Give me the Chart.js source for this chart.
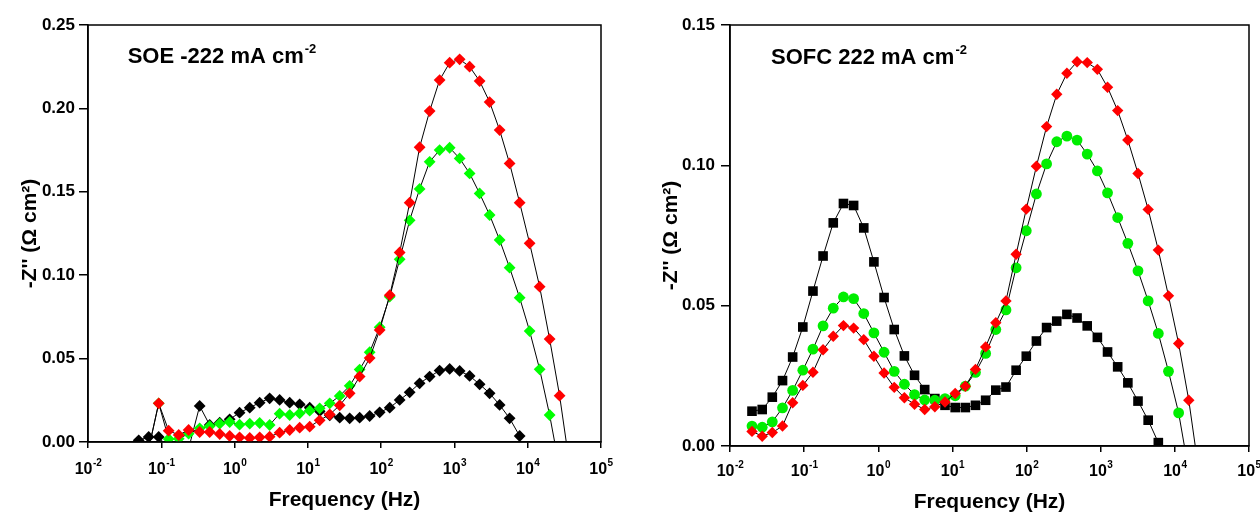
<!DOCTYPE html>
<html>
<head>
<meta charset="utf-8">
<script src="https://cdn.jsdelivr.net/npm/chart.js@4.4.0/dist/chart.umd.min.js"></script>
<style>
  body { margin: 0; background: #fff; }
  .panel { position: absolute; top: 0; width: 630px; height: 513px; }
</style>
</head>
<body>
<div class="panel" style="left:0"><canvas id="soe" width="630" height="513"></canvas></div>
<div class="panel" style="left:630px"><canvas id="sofc" width="630" height="513"></canvas></div>
<script>
const FONT = "'Liberation Sans', Arial, sans-serif";
const decades = [-2, -1, 0, 1, 2, 3, 4, 5];

// SOE -222 mA cm-2 (left panel), frequencies in Hz, -Z'' in ohm cm2
const soeFreq = [0.0492, 0.0673, 0.0922, 0.126, 0.173, 0.236, 0.334, 0.457, 0.627, 0.857,
  1.17, 1.61, 2.20, 3.01, 4.12, 5.65, 7.73, 10.6, 14.5, 19.9,
  27.2, 37.2, 50.9, 69.7, 95.5, 131, 179, 245, 335, 459,
  628, 861, 1178, 1612, 2207, 3021, 4139, 5662, 7762, 10620,
  14550, 19910, 27230, 37330];
const soeBlack = [0.001, 0.003, 0.003, -0.004, -0.004, -0.004, 0.0216, 0.0102, 0.0116, 0.0136,
  0.0176, 0.0206, 0.0236, 0.0262, 0.0252, 0.0236, 0.0226, 0.0206, 0.0185, 0.016,
  0.0146, 0.0142, 0.0146, 0.0156, 0.0178, 0.0206, 0.0252, 0.0298, 0.0352, 0.0392,
  0.0428, 0.0438, 0.0426, 0.0396, 0.0346, 0.0292, 0.0222, 0.0142, 0.0036, null,
  null, null, null, null];
const soeGreen = [null, -0.004, 0.0232, 0.0018, 0.002, 0.005, 0.0082, 0.0095, 0.011, 0.012,
  0.0104, 0.011, 0.0114, 0.0102, 0.017, 0.0162, 0.0172, 0.0188, 0.0202, 0.0232,
  0.0276, 0.0337, 0.0434, 0.0538, 0.0688, 0.0871, 0.1095, 0.1329, 0.1517, 0.168,
  0.175, 0.1764, 0.170, 0.161, 0.149, 0.1361, 0.1211, 0.1045, 0.0865, 0.0665,
  0.0436, 0.0162, -0.016, null];
const soeRed = [null, -0.004, 0.0232, 0.0068, 0.0042, 0.0072, 0.006, 0.006, 0.0048, 0.0036,
  0.0028, 0.0024, 0.0028, 0.0032, 0.0056, 0.0072, 0.0086, 0.0092, 0.013, 0.0165,
  0.022, 0.0292, 0.0392, 0.0503, 0.0671, 0.088, 0.1136, 0.1435, 0.1767, 0.1984,
  0.217, 0.2274, 0.2294, 0.225, 0.2164, 0.2038, 0.187, 0.167, 0.1435, 0.1191,
  0.0931, 0.0617, 0.0278, -0.014];

// SOFC 222 mA cm-2 (right panel)
const sofcFreq = [0.0198, 0.0272, 0.0372, 0.0511, 0.0700, 0.0960, 0.1315, 0.180, 0.247, 0.339,
  0.465, 0.637, 0.873, 1.197, 1.641, 2.249, 3.083, 4.227, 5.794, 7.943,
  10.89, 14.93, 20.46, 28.05, 38.46, 52.72, 72.28, 99.1, 135.8, 186.2,
  255.3, 349.9, 479.7, 657.7, 901.6, 1236, 1694, 2323, 3184, 4365,
  5984, 8204, 11246, 15417, 21135];
const sofcBlack = [0.0124, 0.013, 0.0174, 0.0233, 0.0317, 0.0424, 0.0552, 0.0677, 0.0795, 0.0864,
  0.0857, 0.0777, 0.0656, 0.0529, 0.0415, 0.0321, 0.0252, 0.0201, 0.0169, 0.0145,
  0.0137, 0.0137, 0.0145, 0.0163, 0.0199, 0.021, 0.027, 0.032, 0.0374, 0.0422,
  0.0445, 0.0469, 0.0456, 0.0428, 0.0387, 0.0335, 0.0282, 0.0225, 0.016, 0.0092,
  0.0012, null, null, null, null];
const sofcGreen = [0.0071, 0.0067, 0.0086, 0.0136, 0.0198, 0.027, 0.0345, 0.0428, 0.0491, 0.0531,
  0.0525, 0.0472, 0.0403, 0.0334, 0.0266, 0.022, 0.0183, 0.0164, 0.0163, 0.0169,
  0.0179, 0.0213, 0.0262, 0.033, 0.0415, 0.0485, 0.0635, 0.0767, 0.0898, 0.1005,
  0.1084, 0.1104, 0.109, 0.104, 0.098, 0.0902, 0.0814, 0.0722, 0.0624, 0.0517,
  0.0401, 0.0266, 0.0118, -0.009, null];
const sofcRed = [0.0052, 0.0035, 0.0048, 0.0071, 0.0154, 0.0216, 0.0263, 0.0343, 0.0391, 0.0429,
  0.042, 0.0379, 0.032, 0.026, 0.0209, 0.0172, 0.0149, 0.013, 0.014, 0.0157,
  0.0187, 0.0213, 0.0273, 0.0353, 0.0439, 0.0517, 0.0683, 0.0844, 0.0997, 0.1138,
  0.1253, 0.1328, 0.1369, 0.1366, 0.1342, 0.1278, 0.1195, 0.109, 0.0971, 0.0843,
  0.0698, 0.0535, 0.0365, 0.0163, -0.0093];

function series(freq, vals, color, style, radius) {
  const pts = [];
  vals.forEach((v, i) => { if (v !== null) pts.push({ x: freq[i], y: v }); });
  return {
    data: pts,
    borderColor: '#000',
    borderWidth: 1,
    backgroundColor: color,
    pointBackgroundColor: color,
    pointBorderColor: color,
    pointBorderWidth: 0,
    pointStyle: style,
    pointRadius: radius,
    tension: 0,
    clip: 0
  };
}

// box round the plot, 10^n tick labels and the panel note
const decorPlugin = {
  id: 'decor',
  afterDatasetsDraw(chart) {
    const { ctx, chartArea: a } = chart;
    ctx.save();
    ctx.strokeStyle = '#000';
    ctx.lineWidth = 1.5;
    ctx.strokeRect(a.left, a.top, a.right - a.left, a.bottom - a.top);
    ctx.restore();
  },
  afterDraw(chart, args, opts) {
    const ctx = chart.ctx;
    const xs = chart.scales.x;
    ctx.save();
    ctx.fillStyle = '#000';
    ctx.textBaseline = 'alphabetic';
    ctx.textAlign = 'left';
    decades.forEach(e => {
      const px = xs.getPixelForValue(Math.pow(10, e));
      const exp = String(e);
      ctx.font = 'bold 16px ' + FONT;
      const w1 = ctx.measureText('10').width;
      ctx.font = 'bold 10px ' + FONT;
      const w2 = ctx.measureText(exp).width;
      const x0 = px - (w1 + w2) / 2;
      ctx.font = 'bold 16px ' + FONT;
      ctx.fillText('10', x0, opts.tickY);
      ctx.font = 'bold 10px ' + FONT;
      ctx.fillText(exp, x0 + w1 + 0.5, opts.tickY - 8);
    });
    ctx.font = 'bold 22px ' + FONT;
    ctx.fillText(opts.note, opts.noteX, opts.noteY);
    const wn = ctx.measureText(opts.note).width;
    ctx.font = 'bold 13px ' + FONT;
    ctx.fillText('-2', opts.noteX + wn + 1, opts.noteY - 10);
    ctx.restore();
  }
};

function makeChart(id, cfg) {
  const titleFont = { family: FONT, size: 21, weight: 'bold', lineHeight: 1 };
  return new Chart(document.getElementById(id), {
    type: 'line',
    data: { datasets: cfg.datasets },
    options: {
      responsive: false,
      animation: false,
      devicePixelRatio: 1,
      layout: { padding: { top: 25, right: cfg.padRight, left: 0, bottom: 0 } },
      plugins: { legend: { display: false }, tooltip: { enabled: false }, decor: cfg.decor },
      scales: {
        x: {
          type: 'logarithmic',
          min: 0.01,
          max: 1e5,
          afterBuildTicks: s => { s.ticks = decades.map(e => ({ value: Math.pow(10, e) })); },
          afterFit: s => { s.height = cfg.xHeight; },
          ticks: { display: false },
          grid: { drawOnChartArea: false, tickLength: 6, color: '#000', lineWidth: 1.5 },
          border: { color: '#000', width: 1.5 },
          title: { display: true, text: 'Frequency (Hz)', color: '#000', font: titleFont,
                   padding: { top: 0, bottom: cfg.xTitlePad } }
        },
        y: {
          min: 0,
          max: cfg.yMax,
          afterFit: s => { s.width = cfg.yWidth; },
          ticks: { stepSize: 0.05, callback: v => v.toFixed(2), color: '#000',
                   font: { family: FONT, size: 17, weight: 'bold' }, padding: cfg.yTickPad },
          grid: { drawOnChartArea: false, tickLength: 9, color: '#000', lineWidth: 1.5 },
          border: { color: '#000', width: 1.5 },
          title: { display: true, text: "-Z'' (\u03A9 cm\u00B2)", color: '#000', font: titleFont,
                   padding: { top: cfg.yTitlePad, bottom: 0 } }
        }
      }
    },
    plugins: [decorPlugin]
  });
}

makeChart('soe', {
  datasets: [
    series(soeFreq, soeRed, '#ff0000', 'rectRot', 5.9),
    series(soeFreq, soeGreen, '#00ff00', 'rectRot', 5.9),
    series(soeFreq, soeBlack, '#000000', 'rectRot', 5.9)
  ],
  padRight: 29, xHeight: 71, yWidth: 88, yMax: 0.25, yTickPad: 4,
  xTitlePad: 2, yTitlePad: 20,
  decor: { tickY: 474, note: 'SOE -222 mA cm', noteX: 127.7, noteY: 63 }
});

makeChart('sofc', {
  datasets: [
    series(sofcFreq, sofcRed, '#ff0000', 'rectRot', 5.7),
    series(sofcFreq, sofcGreen, '#00ee00', 'circle', 5.4),
    series(sofcFreq, sofcBlack, '#000000', 'rect', 6.8)
  ],
  padRight: 11, xHeight: 67, yWidth: 100, yMax: 0.15, yTickPad: 6,
  xTitlePad: 0, yTitlePad: 31,
  decor: { tickY: 476, note: 'SOFC 222 mA cm', noteX: 141, noteY: 64 }
});
</script>
</body>
</html>
